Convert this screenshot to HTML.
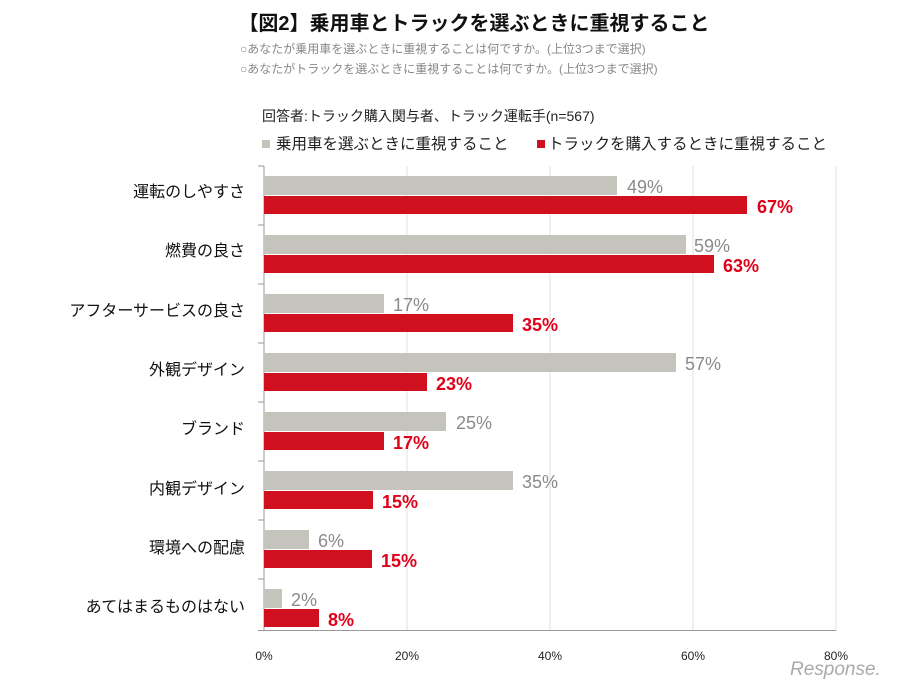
<!DOCTYPE html>
<html><head><meta charset="utf-8"><style>
body{margin:0;background:#fff;width:905px;height:686px;overflow:hidden;font-family:"Liberation Sans","Noto Sans CJK JP",sans-serif;}
</style></head><body>
<svg width="905" height="686" xmlns="http://www.w3.org/2000/svg" font-family="Liberation Sans, Noto Sans CJK JP, sans-serif">
<text x="474" y="30" font-size="20" font-weight="bold" text-anchor="middle" fill="#111">【図2】乗用車とトラックを選ぶときに重視すること</text>
<text x="240" y="53" font-size="12" fill="#888">○あなたが乗用車を選ぶときに重視することは何ですか。(上位3つまで選択)</text>
<text x="240" y="73" font-size="12" fill="#888">○あなたがトラックを選ぶときに重視することは何ですか。(上位3つまで選択)</text>
<text x="262" y="121" font-size="14" fill="#222">回答者:トラック購入関与者、トラック運転手(n=567)</text>
<rect x="262" y="140" width="8" height="8" fill="#c4c4bc"/>
<text x="276" y="149" font-size="15.5" fill="#222">乗用車を選ぶときに重視すること</text>
<rect x="537" y="140" width="8" height="8" fill="#d0101e"/>
<text x="548" y="149" font-size="15.5" fill="#222">トラックを購入するときに重視すること</text>
<g stroke="#e2e2e2" stroke-width="1">
<line x1="407" y1="166" x2="407" y2="630"/><line x1="550" y1="166" x2="550" y2="630"/>
<line x1="693" y1="166" x2="693" y2="630"/><line x1="836" y1="166" x2="836" y2="630"/>
</g>
<line x1="264" y1="166" x2="264" y2="631" stroke="#999"/>
<line x1="258" y1="630.5" x2="836" y2="630.5" stroke="#999"/>
<g stroke="#999">
<line x1="258" y1="166" x2="264" y2="166"/><line x1="258" y1="225" x2="264" y2="225"/><line x1="258" y1="284" x2="264" y2="284"/><line x1="258" y1="343" x2="264" y2="343"/><line x1="258" y1="402" x2="264" y2="402"/><line x1="258" y1="461" x2="264" y2="461"/><line x1="258" y1="520" x2="264" y2="520"/><line x1="258" y1="579" x2="264" y2="579"/>
</g>
<g font-size="12" fill="#222" text-anchor="middle">
<text x="264" y="660">0%</text><text x="407" y="660">20%</text><text x="550" y="660">40%</text><text x="693" y="660">60%</text><text x="836" y="660">80%</text>
</g>
<g font-size="16" fill="#111" text-anchor="end">
<text x="245" y="197">運転のしやすさ</text>
<text x="245" y="256">燃費の良さ</text>
<text x="245" y="316">アフターサービスの良さ</text>
<text x="245" y="375">外観デザイン</text>
<text x="245" y="434">ブランド</text>
<text x="245" y="494">内観デザイン</text>
<text x="245" y="553">環境への配慮</text>
<text x="245" y="612">あてはまるものはない</text>
</g>
<g fill="#c4c4bc">
<rect x="264" y="176" width="353" height="19"/>
<rect x="264" y="235" width="422" height="19"/>
<rect x="264" y="294" width="120" height="19"/>
<rect x="264" y="353" width="412" height="19"/>
<rect x="264" y="412" width="182" height="19"/>
<rect x="264" y="471" width="249" height="19"/>
<rect x="264" y="530" width="45" height="19"/>
<rect x="264" y="589" width="18" height="19"/>
</g>
<g fill="#d0101e">
<rect x="264" y="196" width="483" height="18"/>
<rect x="264" y="255" width="450" height="18"/>
<rect x="264" y="314" width="249" height="18"/>
<rect x="264" y="373" width="163" height="18"/>
<rect x="264" y="432" width="120" height="18"/>
<rect x="264" y="491" width="109" height="18"/>
<rect x="264" y="550" width="108" height="18"/>
<rect x="264" y="609" width="55" height="18"/>
</g>
<g font-size="18" fill="#8a8a8a">
<text x="627" y="193">49%</text><text x="694" y="252">59%</text><text x="393" y="311">17%</text><text x="685" y="370">57%</text><text x="456" y="429">25%</text><text x="522" y="488">35%</text><text x="318" y="547">6%</text><text x="291" y="606">2%</text>
</g>
<g font-size="18" fill="#e0001a" font-weight="bold">
<text x="757" y="213">67%</text><text x="723" y="272">63%</text><text x="522" y="331">35%</text><text x="436" y="390">23%</text><text x="393" y="449">17%</text><text x="382" y="508">15%</text><text x="381" y="567">15%</text><text x="328" y="626">8%</text>
</g>
<text x="790" y="675" font-size="19" fill="#aaa" font-style="italic">Response.</text>
</svg>
</body></html>
